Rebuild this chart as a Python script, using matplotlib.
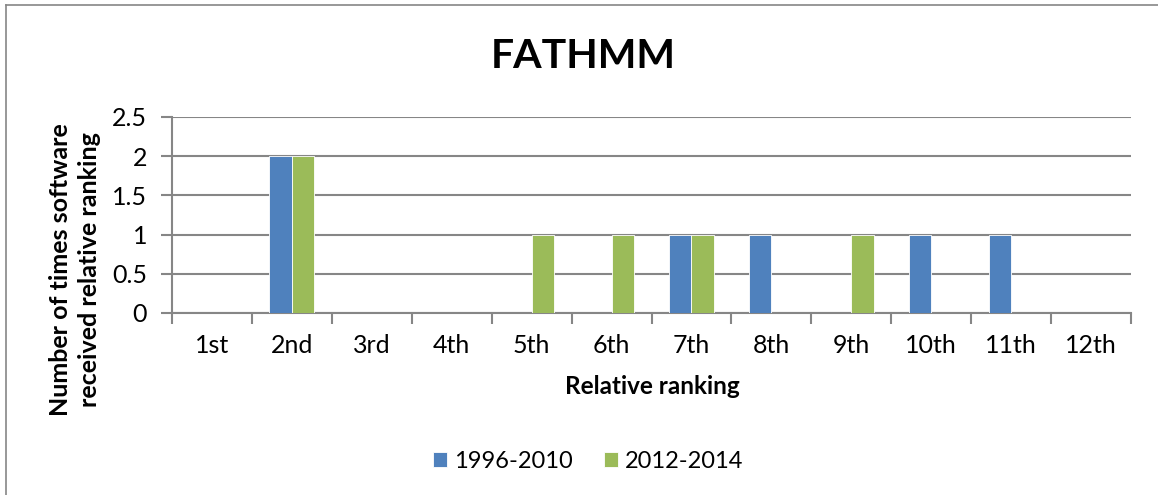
import numpy as np
import matplotlib
matplotlib.use("Agg")
import matplotlib.pyplot as plt

plt.rcParams['font.family'] = ['Lato', 'DejaVu Sans']

# data
rankings = ['1st', '2nd', '3rd', '4th', '5th', '6th', '7th', '8th', '9th', '10th', '11th', '12th']
series_names = ['1996-2010', '2012-2014']
counts_1996_2010 = [0, 2, 0, 0, 0, 0, 1, 1, 0, 1, 1, 0]
counts_2012_2014 = [0, 2, 0, 0, 1, 1, 1, 0, 1, 0, 0, 0]

blue = '#4F81BD'
green = '#9BBB59'
grid_gray = '#868686'

W, H = 1158, 495
fig = plt.figure(figsize=(W / 100, H / 100), dpi=100)
ax = fig.add_axes([172 / W, 1 - 313 / H, (1131 - 172) / W, (313 - 117) / H])

x = np.arange(len(rankings))
w = 0.28
ax.bar(x - w / 2, counts_1996_2010, width=w, color=blue, edgecolor='white', linewidth=0.6,
       label=series_names[0], zorder=3)
ax.bar(x + w / 2, counts_2012_2014, width=w, color=green, edgecolor='white', linewidth=0.6,
       label=series_names[1], zorder=3)

ax.set_xlim(-0.5, len(rankings) - 0.5)
ax.set_ylim(0, 2.5)
ax.set_yticks([0, 0.5, 1, 1.5, 2, 2.5])
ax.set_yticklabels(['0', '0.5', '1', '1.5', '2', '2.5'])
ax.yaxis.grid(True, color=grid_gray, linewidth=1.5, zorder=0)
ax.set_axisbelow(True)

# category labels at centers, tick marks at the boundaries
ax.set_xticks(x)
ax.set_xticklabels(rankings)
ax.tick_params(axis='x', length=0, labelsize=18, pad=15)
ax.set_xticks(np.arange(len(rankings) + 1) - 0.5, minor=True)
ax.tick_params(axis='x', which='minor', length=8, width=1.5, color=grid_gray)
ax.tick_params(axis='y', length=8, width=1.5, color=grid_gray, labelsize=18, pad=10)

for s in ['top', 'right']:
    ax.spines[s].set_visible(False)
for s in ['left', 'bottom']:
    ax.spines[s].set_color(grid_gray)
    ax.spines[s].set_linewidth(1.5)

fig.text(652 / W, 1 - 387 / H, 'Relative ranking', fontsize=17.5, fontweight='bold',
         ha='center', va='center')
fig.text(75 / W, 1 - 270 / H, 'Number of times software\nreceived relative ranking',
         fontsize=18, fontweight='bold', rotation=90, ha='center', va='center',
         linespacing=1.3)

fig.text(583 / W, 1 - 57 / H, 'FATHMM', fontsize=29.5, fontweight='bold',
         ha='center', va='center')

fig.legend(loc='center', bbox_to_anchor=(588 / W, 1 - 461 / H), ncol=2,
           frameon=False, fontsize=17, handlelength=0.6, handleheight=0.6,
           handletextpad=0.3, columnspacing=1.3)

# chart border (left and top visible)
fig.add_artist(plt.Line2D([6 / W, 6 / W], [0, 1 - 5 / H], color=grid_gray, linewidth=1.2,
                          transform=fig.transFigure))
fig.add_artist(plt.Line2D([6 / W, 1], [1 - 5 / H, 1 - 5 / H], color=grid_gray, linewidth=1.2,
                          transform=fig.transFigure))

fig.savefig('out.png', dpi=100)
